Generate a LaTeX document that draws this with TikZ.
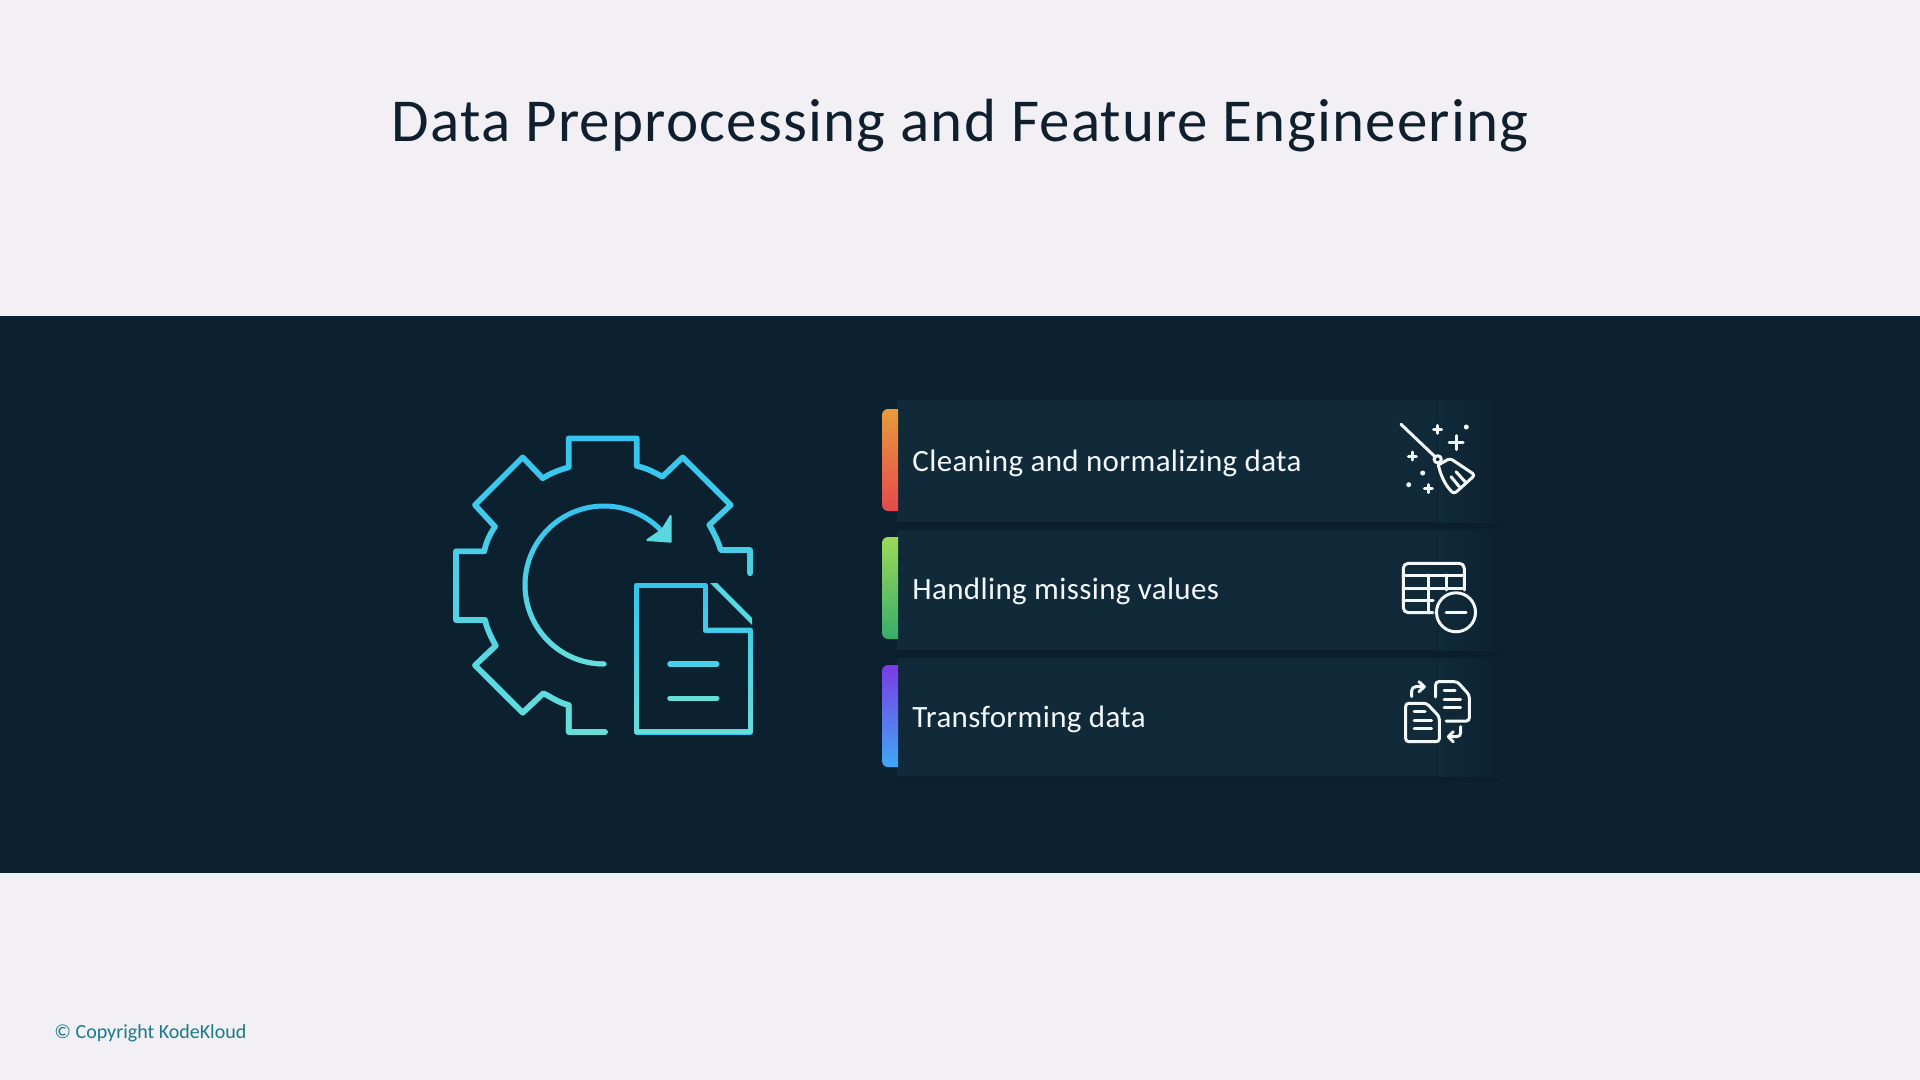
\documentclass[tikz,border=0pt]{standalone}
\usepackage{fontspec}
\setmainfont{Carlito}
\usepackage{tikz}
\usetikzlibrary{fadings}
\definecolor{pagebg}{HTML}{F2F0F4}
\definecolor{bandbg}{HTML}{0C2130}
\definecolor{panelbg}{HTML}{102A3A}
\definecolor{panelshade}{HTML}{0B1E2B}
\definecolor{titleink}{HTML}{0F1F2E}
\definecolor{copyink}{HTML}{1B7A8A}
\definecolor{iconblue}{HTML}{35C4F0}
\definecolor{iconteal}{HTML}{66DFDA}
\definecolor{rowink}{HTML}{F5F8FA}
\definecolor{barorange}{HTML}{E89B3C}
\definecolor{barred}{HTML}{E5484D}
\definecolor{barlime}{HTML}{9ADB58}
\definecolor{bargreen}{HTML}{38AC6B}
\definecolor{barviolet}{HTML}{7A3BE6}
\definecolor{barsky}{HTML}{3FA8F6}

\begin{document}
\begin{tikzpicture}[
            x = 0.5pt, % one unit is one pixel of the slide
            y = -0.5pt,
            line join = round,
            line cap = round
        ]

        \tikzset{
            glowline/.style = {draw = iconblue, line width = 2.8pt,
                postaction = {draw = iconteal, path fading = north}},
            whiteline/.style = {draw = rowink, line width = 1.5pt},
            panelbox/.style = {fill = panelbg},
            rowtext/.style = {anchor = base west, inner sep = 0pt, text = rowink,
                font = \fontsize{15.5}{18}\selectfont\addfontfeature{LetterSpace=1.2}}
        }

        \useasboundingbox (0,0) rectangle (1920,1080);
        \fill[pagebg] (0,0) rectangle (1920,1080);
        \fill[bandbg] (0,316) rectangle (1920,873);

        % headings
        \node[anchor = base, inner sep = 0pt, text = titleink,
            font = \fontsize{30.5}{36}\selectfont\addfontfeature{LetterSpace=2}]
            (title) at (960,142) {Data Preprocessing and Feature Engineering};
        \node[anchor = base west, inner sep = 0pt, text = copyink, font = \fontsize{10}{12}\selectfont]
            (copyright) at (54,1038.5) {© Copyright KodeKloud};

        % gear
        \path[glowline] (605,732) -- (568.7,732) -- (568.7,705)
            .. controls (559,703) and (551,697) .. (543.3,693.3)
            -- (522.7,712.7) -- (475,665.3) -- (495.7,645.7)
            .. controls (491,637) and (487,629) .. (485,620)
            -- (456,620) -- (456,551.3) -- (484.3,551.3)
            .. controls (486,542) and (490,534) .. (495,526.7)
            -- (475,505) -- (522.7,457.3) -- (542.7,478.3)
            .. controls (551,473) and (559,470) .. (568.7,467.3)
            -- (568.7,438.3) -- (636.7,438.3) -- (636.7,466)
            .. controls (646,468) and (654,472) .. (662.3,476.7)
            -- (682.7,457.3) -- (730.7,505) -- (709.3,525)
            .. controls (714,533) and (718,541) .. (720.7,550)
            -- (750,550) -- (750,573.3);

        % round arrow
        \coordinate (arcstart) at (604,664);
        \path[glowline, line width = 2.5pt] (arcstart)
            arc[start angle = 270, end angle = 43, radius = 39.5pt];
        \fill[iconteal!75!iconblue, draw = iconteal!75!iconblue, line width = 1pt]
            (670.7,516) -- (670.7,541.7) -- (647.3,540) -- (662,530) -- cycle;

        % document
        \path[glowline, line width = 2.5pt] (705,585) -- (636.7,585) -- (636.7,732)
            -- (750,732) -- (750,630) -- (705,630) -- cycle;
        \fill[iconteal!70!iconblue] (710,583) -- (717,583) -- (752,618) -- (752,625) -- cycle;
        \draw[iconblue!60!iconteal, line width = 2.8pt] (670,664) -- (716.7,664);
        \draw[iconteal, line width = 2.8pt] (670,698.3) -- (716.7,698.3);

        % rows
        \fill[panelshade] (897,522) rectangle (1500,528);
        \fill[panelshade] (897,650) rectangle (1500,657);
        \fill[panelshade] (897,776) rectangle (1500,782);
        \node[panelbox, minimum width = 270pt, minimum height = 61pt, anchor = north west, inner sep = 0pt]
            (rowa) at (897,400) {};
        \node[panelbox, minimum width = 270pt, minimum height = 60pt, anchor = north west, inner sep = 0pt]
            (rowb) at (897,530) {};
        \node[panelbox, minimum width = 270pt, minimum height = 59pt, anchor = north west, inner sep = 0pt]
            (rowc) at (897,658) {};
        \shade[left color = panelbg, right color = bandbg] (rowa.north east) rectangle ++(60,122);
        \shade[left color = panelbg, right color = bandbg] (rowb.north east) rectangle ++(60,120);
        \shade[left color = panelbg, right color = bandbg] (rowc.north east) rectangle ++(60,118);

        \shade[top color = barorange, bottom color = barred]
            (898,409) [rounded corners = 3pt] -- (882,409) -- (882,511) [sharp corners] -- (898,511) -- cycle;
        \shade[top color = barlime, bottom color = bargreen]
            (898,537) [rounded corners = 3pt] -- (882,537) -- (882,639) [sharp corners] -- (898,639) -- cycle;
        \shade[top color = barviolet, bottom color = barsky]
            (898,665) [rounded corners = 3pt] -- (882,665) -- (882,767) [sharp corners] -- (898,767) -- cycle;

        \node[rowtext] (cleaning) at (912,471) {Cleaning and normalizing data};
        \node[rowtext] (missing) at (912,599) {Handling missing values};
        \node[rowtext] (transform) at (912,727) {Transforming data};

        % broom
        \draw[whiteline] (1401,424.3) -- (1435,456.7);
        \draw[whiteline] (1437.7,459.3) circle (1.8pt);
        \draw[whiteline, rounded corners = 1.5pt] (1438.3,465) -- (1450,458.3) -- (1475,475)
            -- (1454,494) .. controls (1446,486) and (1441,477) .. (1438.3,465);
        \draw[whiteline] (1451,476.7) -- (1459.3,486.7);
        \draw[whiteline] (1456,471.7) -- (1465,481.7);
        \draw[whiteline] (1433.7,429.3) -- (1441.7,429.3) (1437.7,425.3) -- (1437.7,433.3);
        \draw[whiteline] (1449,442.7) -- (1463,442.7) (1456,435.7) -- (1456,449.7);
        \draw[whiteline] (1408.3,456) -- (1416.3,456) (1412.3,452) -- (1412.3,460);
        \draw[whiteline] (1424.3,488.7) -- (1432.3,488.7) (1428.3,484.7) -- (1428.3,492.7);
        \fill[rowink] (1466.3,427) circle (1.25pt);
        \fill[rowink] (1422.7,473) circle (1.25pt);
        \fill[rowink] (1408.7,484.7) circle (1.25pt);

        % table
        \draw[whiteline, rounded corners = 2.5pt] (1464.3,590) -- (1464.3,563.3) -- (1403.3,563.3)
            -- (1403.3,612.7) -- (1433,612.7);
        \draw[whiteline] (1403.3,575) -- (1464.3,575);
        \draw[whiteline] (1403.3,588.3) -- (1464.3,588.3);
        \draw[whiteline] (1403.3,600) -- (1433,600);
        \draw[whiteline] (1428.3,575) -- (1428.3,612.7);
        \draw[whiteline] (1446,575) -- (1446,590);
        \draw[whiteline] (1456,612.3) circle (9.75pt);
        \draw[whiteline] (1446,612.3) -- (1466,612.3);

        % documents
        \draw[whiteline, rounded corners = 1.5pt] (1435.7,697) -- (1435.7,681.7) -- (1457.3,681.7)
            -- (1469.3,695) -- (1469.3,721) -- (1446,721);
        \draw[whiteline] (1444,690.7) -- (1455,690.7);
        \draw[whiteline] (1444,699.3) -- (1460.7,699.3);
        \draw[whiteline] (1444,707.7) -- (1460.7,707.7);
        \draw[whiteline, rounded corners = 1.5pt] (1405.7,703.3) -- (1426.7,703.3) -- (1439.3,716.7)
            -- (1439.3,741.7) -- (1405.7,741.7) -- cycle;
        \draw[whiteline] (1414,711.7) -- (1425,711.7);
        \draw[whiteline] (1414,720) -- (1431.7,720);
        \draw[whiteline] (1414,728.3) -- (1431.7,728.3);
        \draw[whiteline, rounded corners = 2pt] (1411.7,696.7) -- (1411.7,686.7) -- (1424,686.7);
        \draw[whiteline] (1419,681.7) -- (1424.3,686.7) -- (1419,691.7);
        \draw[whiteline, rounded corners = 2pt] (1460.7,726.7) -- (1460.7,736.7) -- (1448.3,736.7);
        \draw[whiteline] (1453.3,731.7) -- (1448.3,736.7) -- (1453.3,741.7);

\end{tikzpicture}
\end{document}
